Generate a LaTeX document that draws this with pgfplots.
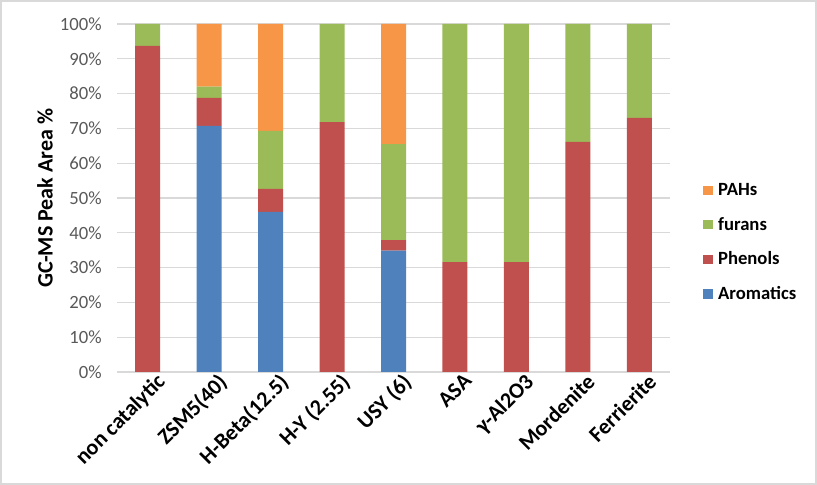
\documentclass[border=0pt]{standalone}
\usepackage{pgfplots}
\pgfplotsset{compat=1.18}
\usepackage{fontspec}
\setmainfont{Carlito}

\definecolor{arom}{HTML}{4F81BD}
\definecolor{phen}{HTML}{C0504D}
\definecolor{fur}{HTML}{9BBB59}
\definecolor{pah}{HTML}{F79646}
\definecolor{gridc}{HTML}{D9D9D9}
\definecolor{tickc}{HTML}{595959}

\begin{document}
\begin{tikzpicture}
% 1 px of the reference = 0.75pt
\begin{axis}[
    at={(87.75pt,84.75pt)}, anchor=south west,
    scale only axis,
    width=414.75pt, height=261pt,
    ybar stacked,
    bar width=18.75pt,
    xmin=-0.5, xmax=8.5,
    ymin=0, ymax=100,
    ytick={0,10,...,100},
    yticklabel={\pgfmathprintnumber{\tick}\%},
    xtick={0,...,8},
    xticklabels={non catalytic, ZSM5(40), H-Beta(12.5), H-Y (2.55), USY (6), ASA, γ-Al2O3, Mordenite, Ferrierite},
    xticklabel style={rotate=45, anchor=north east, font=\fontsize{16.5}{18}\selectfont\bfseries, text=black, inner sep=1pt, yshift=-3pt, xshift=5pt},
    yticklabel style={font=\fontsize{14}{16}\selectfont, text=tickc, xshift=-8pt},
    /pgf/number format/assume math mode=true,
    major tick length=0pt,
    axis line style={draw=none},
    ymajorgrids,
    grid style={gridc, line width=0.9pt},
    ylabel={GC-MS Peak Area \%},
    ylabel style={at={(axis description cs:-0.13,0.5)}, anchor=center, font=\fontsize{16.5}{18}\selectfont\bfseries},
    reverse legend,
    legend style={at={(axis description cs:1.06,0.372)}, anchor=west, draw=none, fill=none, inner sep=0pt,
        font=\fontsize{14}{16}\selectfont\bfseries, row sep=10.7pt},
    legend cell align=left,
    legend image code/.code={\fill[#1] (0pt,-3.5pt) rectangle (7pt,3.5pt);},
    legend style={nodes={inner xsep=4pt}},
]
\addplot[fill=arom, draw=none] coordinates {(0,0) (1,70.7) (2,46.0) (3,0) (4,34.9) (5,0) (6,0) (7,0) (8,0)};
\addplot[fill=phen, draw=none] coordinates {(0,93.7) (1,8.1) (2,6.6) (3,71.8) (4,3.0) (5,31.6) (6,31.6) (7,66.1) (8,73.0)};
\addplot[fill=fur, draw=none] coordinates {(0,6.3) (1,3.2) (2,16.7) (3,28.2) (4,27.6) (5,68.4) (6,68.4) (7,33.9) (8,27.0)};
\addplot[fill=pah, draw=none] coordinates {(0,0) (1,18.0) (2,30.7) (3,0) (4,34.5) (5,0) (6,0) (7,0) (8,0)};
\legend{Aromatics, Phenols, furans, PAHs}
\end{axis}
\pgfresetboundingbox
\draw[gridc, line width=1.5pt] (0.75pt,0.75pt) rectangle (612pt,363pt);
\end{tikzpicture}
\end{document}
